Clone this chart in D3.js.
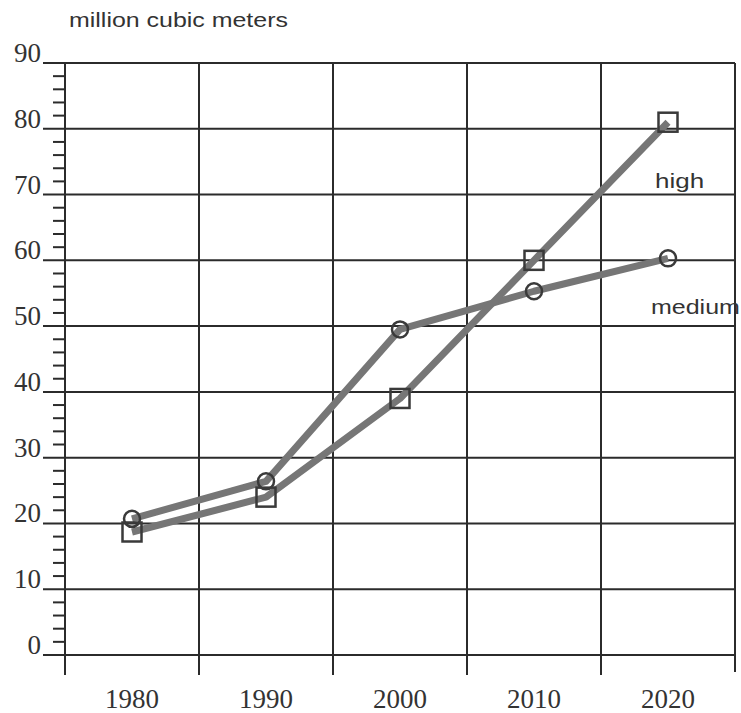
<!DOCTYPE html>
<html><head><meta charset="utf-8">
<script src="https://cdn.jsdelivr.net/npm/d3@7"></script>
<style>body{margin:0;background:#fff}svg{display:block}</style>
</head><body>
<svg id="c" width="741" height="713"></svg>
<script>
const years = ["1980","1990","2000","2010","2020"];
const highValues = [18.7, 24, 39, 60, 81];
const mediumValues = [20.7, 26.4, 49.5, 55.3, 60.3];
const yTicks = [0,10,20,30,40,50,60,70,80,90];
const minorTicks = d3.range(0, 90, 2).filter(v => v % 10 !== 0);
const seriesLabels = ["high", "medium"];
const unitLabel = "million cubic meters";

const svg = d3.select("#c");
const x = d3.scaleBand().domain(years).range([65, 735]).padding(0);
const y = d3.scaleLinear().domain([0, 90]).range([655, 63]);
const cx = d => x(d) + x.bandwidth() / 2;
const ink = "#2b2b2b";
const serif = "Liberation Serif, Times New Roman, serif";
const sans = "Liberation Sans, Arial, sans-serif";

// horizontal grid lines
svg.append("g").selectAll("line").data(yTicks).join("line")
  .attr("x1", 43).attr("x2", 735)
  .attr("y1", d => y(d)).attr("y2", d => y(d))
  .attr("stroke", ink).attr("stroke-width", 2);

// vertical grid lines (band boundaries)
const bounds = years.map(d => x(d)).concat([x.range()[1]]);
svg.append("g").selectAll("line").data(bounds).join("line")
  .attr("x1", d => d).attr("x2", d => d)
  .attr("y1", y(90)).attr("y2", (d, i) => i === bounds.length - 1 ? 672 : 675)
  .attr("stroke", ink).attr("stroke-width", 2);

// minor ticks
svg.append("g").selectAll("line").data(minorTicks).join("line")
  .attr("x1", 53).attr("x2", 65)
  .attr("y1", d => y(d)).attr("y2", d => y(d))
  .attr("stroke", ink).attr("stroke-width", 2);

// y labels
svg.append("g").selectAll("text").data(yTicks).join("text")
  .attr("x", 41).attr("y", d => y(d) - 1)
  .attr("text-anchor", "end")
  .attr("font-family", serif)
  .attr("font-size", 27).attr("fill", "#333")
  .text(d => d);

// x labels
svg.append("g").selectAll("text").data(years).join("text")
  .attr("x", d => cx(d)).attr("y", 708)
  .attr("text-anchor", "middle")
  .attr("font-family", serif)
  .attr("font-size", 27).attr("fill", "#333")
  .text(d => d);

// unit label (horizontally stretched like the scanned original)
svg.append("text").attr("transform", "translate(69,27) scale(1.28,1)")
  .attr("font-family", sans)
  .attr("font-size", 19.5).attr("fill", "#333").text(unitLabel);

const line = d3.line().x((v, i) => cx(years[i])).y(v => y(v));
const lineColor = "#767676";

[mediumValues, highValues].forEach(vals => {
  svg.append("path").datum(vals).attr("d", line)
    .attr("fill", "none").attr("stroke", lineColor)
    .attr("stroke-width", 7).attr("stroke-linejoin", "round");
});

// square markers (high)
svg.append("g").selectAll("rect").data(highValues).join("rect")
  .attr("x", (v, i) => cx(years[i]) - 9.5).attr("y", v => y(v) - 9.5)
  .attr("width", 19).attr("height", 19)
  .attr("fill", "none").attr("stroke", "#3a3a3a").attr("stroke-width", 2.5);

// circle markers (medium)
svg.append("g").selectAll("circle").data(mediumValues).join("circle")
  .attr("cx", (v, i) => cx(years[i])).attr("cy", v => y(v))
  .attr("r", 8)
  .attr("fill", "none").attr("stroke", "#3a3a3a").attr("stroke-width", 2.5);

// series labels
svg.append("text").attr("transform", "translate(655,188) scale(1.3,1)")
  .attr("font-family", sans)
  .attr("font-size", 20).attr("fill", "#333").text(seriesLabels[0]);
svg.append("text").attr("transform", "translate(651,314) scale(1.25,1)")
  .attr("font-family", sans)
  .attr("font-size", 20).attr("fill", "#333").text(seriesLabels[1]);
</script>
</body></html>
